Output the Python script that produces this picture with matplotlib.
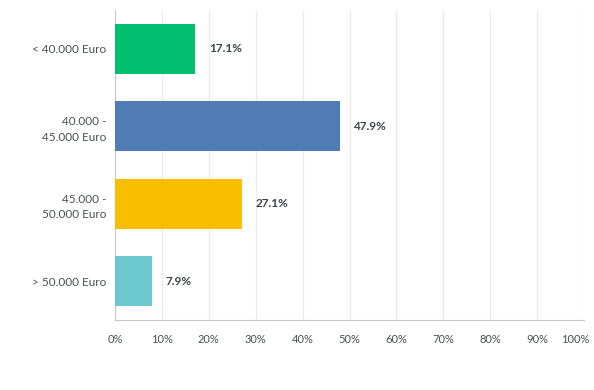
import matplotlib.pyplot as plt
from matplotlib.transforms import ScaledTranslation

# Data
categories = ["< 40.000 Euro", "40.000 -\n45.000 Euro", "45.000 -\n50.000 Euro", "> 50.000 Euro"]
values = [17.1, 47.9, 27.1, 7.9]
colors = ["#00bf6f", "#507cb6", "#f9be00", "#6bc8cd"]
xticks = list(range(0, 101, 10))

plt.rcParams['font.family'] = ['Lato', 'DejaVu Sans']
text_col = "#4a4f57"

fig = plt.figure(figsize=(5.94, 3.9), dpi=100)
ax = fig.add_axes([115 / 594, 1 - 320 / 390, 469 / 594, 310 / 390])

ypos = list(range(len(categories)))
ax.barh(ypos, values, height=0.65, color=colors, zorder=3)
for y, v in zip(ypos, values):
    ax.text(v + 2.9, y, f"{v}%", va="center", ha="left", fontsize=8.5,
            fontweight="bold", color="#3d434c", zorder=4)

ax.set_xlim(0, 100)
ax.set_ylim(len(categories) - 0.5, -0.5)
ax.set_yticks(ypos)
ax.set_yticklabels(categories, fontsize=8.5, color=text_col, linespacing=1.5)
ax.set_xticks(xticks)
ax.set_xticklabels([f"{t}%" for t in xticks], fontsize=8, color=text_col)
ax.tick_params(axis="both", length=0)
ax.tick_params(axis="y", pad=6)
ax.tick_params(axis="x", pad=10)
ax.xaxis.grid(True, color="#ebebeb", linewidth=1, zorder=0)
for s in ["top", "right"]:
    ax.spines[s].set_visible(False)
ax.spines["left"].set_color("#c8c8c8")
ax.spines["bottom"].set_color("#c8c8c8")

# keep "100%" inside the figure, as in the original
last = ax.get_xticklabels()[-1]
last.set_transform(last.get_transform() + ScaledTranslation(-6 / 72, 0, fig.dpi_scale_trans))

fig.savefig("out.png", dpi=100)
